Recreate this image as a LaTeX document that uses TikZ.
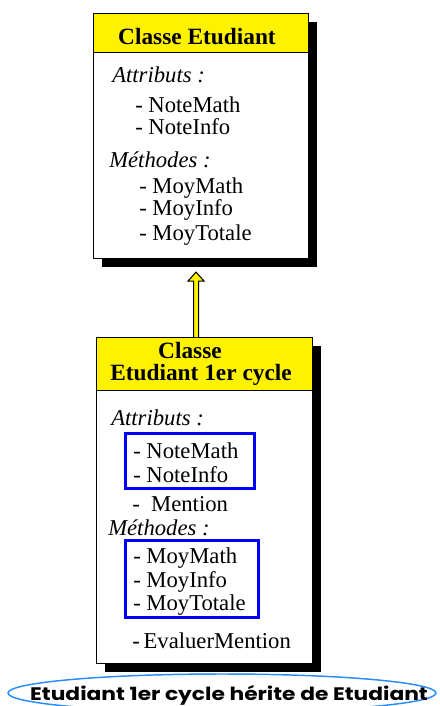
\documentclass[tikz,border=0pt]{standalone}
\usepackage{fontspec}
\setmainfont{Liberation Serif}
\newfontfamily\notefont{Poppins}[FakeStretch=1.2]
\usetikzlibrary{positioning,calc,shapes.geometric,shadows}
\definecolor{noteblue}{RGB}{40,140,255}
\tikzset{
  classbox/.style={draw=black, line width=0.8pt, fill=white, anchor=north west, inner sep=0pt,
    general shadow={fill=black, shadow xshift=6pt, shadow yshift=-6pt}},
  classhead/.style={draw=black, line width=0.8pt, fill=yellow, anchor=north west, inner sep=0pt},
  headlabel/.style={anchor=base, inner sep=0pt, font=\fontsize{17.5}{17.5}\selectfont\bfseries},
  sectlabel/.style={anchor=base west, inner sep=0pt, font=\fontsize{17}{18}\selectfont\itshape},
  memberlabel/.style={anchor=base west, inner sep=0pt, font=\fontsize{17}{18}\selectfont},
  groupframe/.style={draw=blue, line width=2.25pt},
  notebubble/.style={ellipse, draw=noteblue, line width=1.1pt, inner sep=0pt,
    minimum width=321pt, minimum height=28.5pt},
  notelabel/.style={anchor=base, inner sep=0pt, font=\notefont\bfseries\fontsize{13.6}{13.6}\selectfont},
}

\begin{document}
\begin{tikzpicture}[x=0.75pt,y=-0.75pt]
  \useasboundingbox (0,0) rectangle (439,706);
  % Classe de base
  \node[classbox, minimum width=161.25pt, minimum height=183.75pt] (base) at (93,13) {};
  \node[classhead, minimum width=161.25pt, minimum height=29.25pt] (basehead) at (base.north west) {};
  \node[headlabel] (basetitle) at (197,45) {Classe Etudiant};
  \node[sectlabel] (baseattr) at (112,83) {Attributs :};
  \node[memberlabel] (bnm) at (135,113) {- NoteMath};
  \node[memberlabel] (bni) at (135,135) {- NoteInfo};
  \node[sectlabel] (basemeth) at (109,167) {Méthodes :};
  \node[memberlabel] (bmm) at (139,193) {- MoyMath};
  \node[memberlabel] (bmi) at (139,215) {- MoyInfo};
  \node[memberlabel] (bmt) at (139,240) {- MoyTotale};
  % Classe dérivée
  \node[classbox, minimum width=162pt, minimum height=244.5pt] (sub) at (96,337) {};
  \node[classhead, minimum width=162pt, minimum height=39.75pt] (subhead) at (sub.north west) {};
  \node[headlabel] (subtitle1) at (190,358) {Classe};
  \node[headlabel] (subtitle2) at (201,380) {Etudiant 1er cycle};
  \node[sectlabel] (subattr) at (111,425) {Attributs :};
  \node[memberlabel] (snm) at (133,458) {- NoteMath};
  \node[memberlabel] (sni) at (133,482) {- NoteInfo};
  \node[memberlabel] (smen) at (132,511) {-~~Mention};
  \node[sectlabel] (submeth) at (108,535) {Méthodes :};
  \node[memberlabel] (smm) at (133,563) {- MoyMath};
  \node[memberlabel] (smi) at (133,587) {- MoyInfo};
  \node[memberlabel] (smt) at (133,610) {- MoyTotale};
  \node[memberlabel] (sev) at (132,648) {-\,EvaluerMention};
  % membres hérités
  \draw[groupframe] (125.5,433.5) rectangle (254.5,488.5);
  \draw[groupframe] (125.5,540.5) rectangle (258.5,617.5);
  % flèche d'héritage
  \coordinate (tip) at ($(base.south)+(-5,13)$);
  \coordinate (foot) at ($(sub.north)+(-8.5,0)$);
  \draw[line width=0.8pt, fill=yellow, line join=miter]
    ($(foot)+(-2.5,0)$) -- ($(tip)+(-2.5,9)$) -- ($(tip)+(-8,9)$) -- (tip)
    -- ($(tip)+(8,9)$) -- ($(tip)+(2.5,9)$) -- ($(foot)+(2.5,0)$);
  % légende
  \node[notebubble] (note) at (222,693) {};
  \node[notelabel] (notetext) at (229,700) {Etudiant 1er cycle hérite de Etudiant};
\end{tikzpicture}
\end{document}
